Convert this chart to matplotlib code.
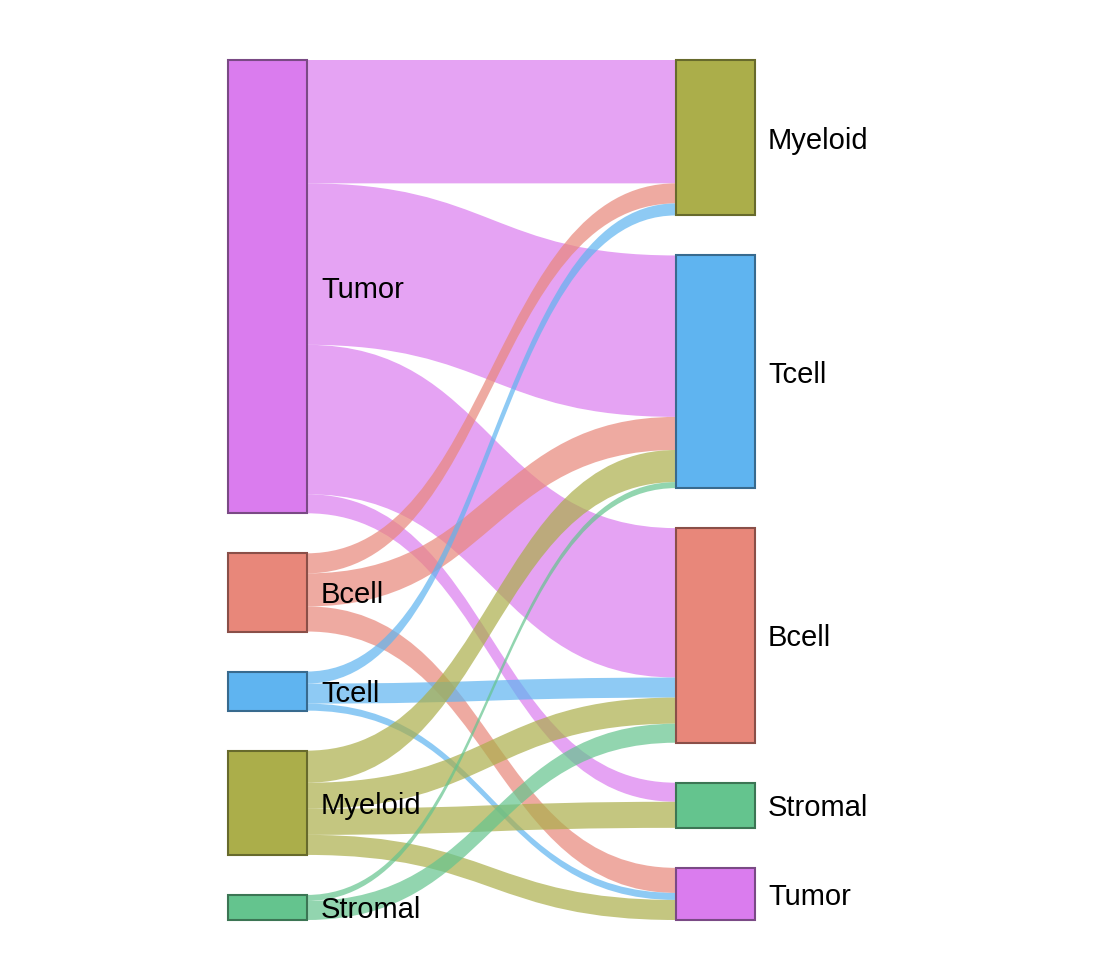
import matplotlib
matplotlib.use("Agg")
import matplotlib.pyplot as plt
from matplotlib.path import Path
from matplotlib.patches import PathPatch, Rectangle

# data
left_nodes = ["Tumor", "Bcell", "Tcell", "Myeloid", "Stromal"]
right_nodes = ["Myeloid", "Tcell", "Bcell", "Stromal", "Tumor"]
sources = ["Tumor", "Tumor", "Tumor", "Tumor",
           "Bcell", "Bcell", "Bcell",
           "Tcell", "Tcell", "Tcell",
           "Myeloid", "Myeloid", "Myeloid", "Myeloid",
           "Stromal", "Stromal"]
targets = ["Myeloid", "Tcell", "Bcell", "Stromal",
           "Myeloid", "Tcell", "Tumor",
           "Myeloid", "Bcell", "Tumor",
           "Tcell", "Bcell", "Stromal", "Tumor",
           "Tcell", "Bcell"]
values = [123, 161, 149, 19,
          20, 33, 25,
          12, 20, 7,
          32, 26, 26, 20,
          6, 19]

colors = {"Tumor": "#da7cee", "Bcell": "#e8877a", "Tcell": "#5fb4f0",
          "Myeloid": "#abae4a", "Stromal": "#64c48e"}
edges = {"Tumor": "#7a4a85", "Bcell": "#8a4f48", "Tcell": "#386a8e",
         "Myeloid": "#676a2c", "Stromal": "#3c7554"}

# layout (pixels)
W, H = 1094, 980
top, bottom, gap = 60, 920, 40
xl0, xl1 = 228, 307
xr0, xr1 = 676, 755

fig = plt.figure(figsize=(W / 100, H / 100), dpi=100)
ax = fig.add_axes([0, 0, 1, 1])
ax.set_xlim(0, W)
ax.set_ylim(H, 0)
ax.axis("off")

out_tot = {n: sum(v for s, v in zip(sources, values) if s == n) for n in left_nodes}
in_tot = {n: sum(v for t, v in zip(targets, values) if t == n) for n in right_nodes}
total = sum(values)
scale = (bottom - top - gap * (len(left_nodes) - 1)) / total


def stack(order, totals):
    pos = {}
    y = top
    for n in order:
        h = totals[n] * scale
        pos[n] = (y, h)
        y += h + gap
    return pos


lpos = stack(left_nodes, out_tot)
rpos = stack(right_nodes, in_tot)

# link offsets: at source sorted by target order, at target by source order
idx = list(range(len(values)))
src_off = {}
for n in left_nodes:
    y = lpos[n][0]
    for i in sorted([i for i in idx if sources[i] == n], key=lambda i: right_nodes.index(targets[i])):
        src_off[i] = y
        y += values[i] * scale
tgt_off = {}
for n in right_nodes:
    y = rpos[n][0]
    for i in sorted([i for i in idx if targets[i] == n], key=lambda i: left_nodes.index(sources[i])):
        tgt_off[i] = y
        y += values[i] * scale

xm = (xl1 + xr0) / 2
for i in idx:
    h = values[i] * scale
    ys0, yt0 = src_off[i], tgt_off[i]
    ys1, yt1 = ys0 + h, yt0 + h
    verts = [(xl1, ys0), (xm, ys0), (xm, yt0), (xr0, yt0),
             (xr0, yt1), (xm, yt1), (xm, ys1), (xl1, ys1), (xl1, ys0)]
    codes = [Path.MOVETO, Path.CURVE4, Path.CURVE4, Path.CURVE4,
             Path.LINETO, Path.CURVE4, Path.CURVE4, Path.CURVE4, Path.CLOSEPOLY]
    ax.add_patch(PathPatch(Path(verts, codes), facecolor=colors[sources[i]],
                           edgecolor="none", alpha=0.7, zorder=1))

font = ["Liberation Sans", "DejaVu Sans"]
for n in left_nodes:
    y, h = lpos[n]
    ax.add_patch(Rectangle((xl0, y), xl1 - xl0, h, facecolor=colors[n],
                           edgecolor=edges[n], linewidth=1.5, zorder=2))
    ax.text(xl1 + 14, y + h / 2 + 3, n, fontsize=21, family=font,
            va="center", ha="left", zorder=3)
for n in right_nodes:
    y, h = rpos[n]
    ax.add_patch(Rectangle((xr0, y), xr1 - xr0, h, facecolor=colors[n],
                           edgecolor=edges[n], linewidth=1.5, zorder=2))
    ax.text(xr1 + 13, y + h / 2 + 3, n, fontsize=21, family=font,
            va="center", ha="left", zorder=3)

fig.savefig("out.png", dpi=100, facecolor="white")
